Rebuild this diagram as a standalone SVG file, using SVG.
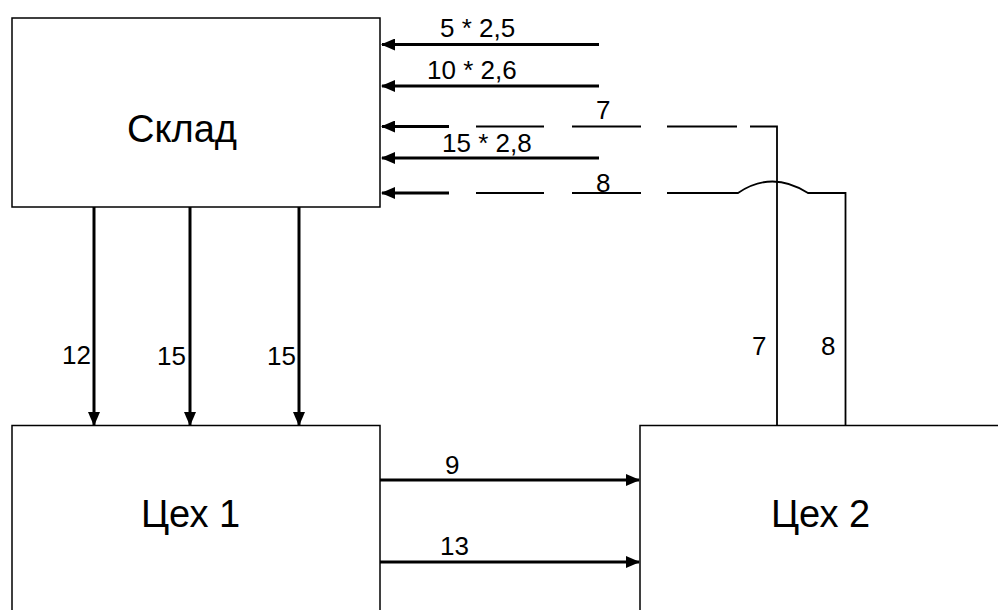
<svg xmlns="http://www.w3.org/2000/svg" width="998" height="610" viewBox="0 0 998 610">
<defs>
<style>
.box{fill:#fff;stroke:#000;stroke-width:1.5}
.t{font-family:"Liberation Sans",Arial,sans-serif;font-size:38px;fill:#000}
.l{font-family:"Liberation Sans",Arial,sans-serif;font-size:26px;fill:#000}
.a{stroke:#000;stroke-width:3;fill:none}
.d{stroke:#000;stroke-width:1.8;fill:none}
</style>
<marker id="ah" markerUnits="userSpaceOnUse" markerWidth="14" markerHeight="12" viewBox="0 0 14 12" refX="13" refY="6" orient="auto">
<path d="M0,0 L14,6 L0,12 Z" fill="#000"/>
</marker>
</defs>
<rect width="998" height="610" fill="#fff"/>
<g id="sklad"><rect class="box" x="12" y="18" width="368" height="189"/><text class="t" x="127" y="142">Склад</text></g>
<g id="tseh1"><rect class="box" x="12" y="425.5" width="368" height="200"/><text class="t" x="141" y="527">Цех 1</text></g>
<g id="tseh2"><rect class="box" x="640" y="425.5" width="380" height="200"/><text class="t" x="771" y="527">Цех 2</text></g>
<g id="connectors">
<line class="a" x1="599" y1="44.5" x2="382" y2="44.5" marker-end="url(#ah)"/>
<line class="a" x1="599" y1="86" x2="382" y2="86" marker-end="url(#ah)"/>
<line class="a" x1="599" y1="158" x2="382" y2="158" marker-end="url(#ah)"/>
<line class="a" x1="449" y1="126.5" x2="382" y2="126.5" marker-end="url(#ah)"/>
<line class="a" x1="449" y1="193" x2="382" y2="193" marker-end="url(#ah)"/>
<path class="d" d="M476,126.5H544M572,126.5H641M667,126.5H737M750,126.5H777V425"/>
<path class="d" d="M476,193H544M572,193H641M667,193H738Q772,170 808,193H845.5V425"/>
<line class="a" x1="94" y1="207" x2="94" y2="425" marker-end="url(#ah)"/>
<line class="a" x1="190" y1="207" x2="190" y2="425" marker-end="url(#ah)"/>
<line class="a" x1="299" y1="207" x2="299" y2="425" marker-end="url(#ah)"/>
<line class="a" x1="380" y1="480" x2="639" y2="480" marker-end="url(#ah)"/>
<line class="a" x1="380" y1="562" x2="639" y2="562" marker-end="url(#ah)"/>
</g>
<g id="labels">
<text class="l" x="440" y="37">5 * 2,5</text>
<text class="l" x="427" y="79">10 * 2,6</text>
<text class="l" x="596" y="119">7</text>
<text class="l" x="442" y="152">15 * 2,8</text>
<text class="l" x="596" y="192">8</text>
<text class="l" x="62" y="364">12</text>
<text class="l" x="157" y="365">15</text>
<text class="l" x="267" y="365">15</text>
<text class="l" x="752" y="355">7</text>
<text class="l" x="821" y="355">8</text>
<text class="l" x="445" y="474">9</text>
<text class="l" x="440" y="555">13</text>
</g>
</svg>
